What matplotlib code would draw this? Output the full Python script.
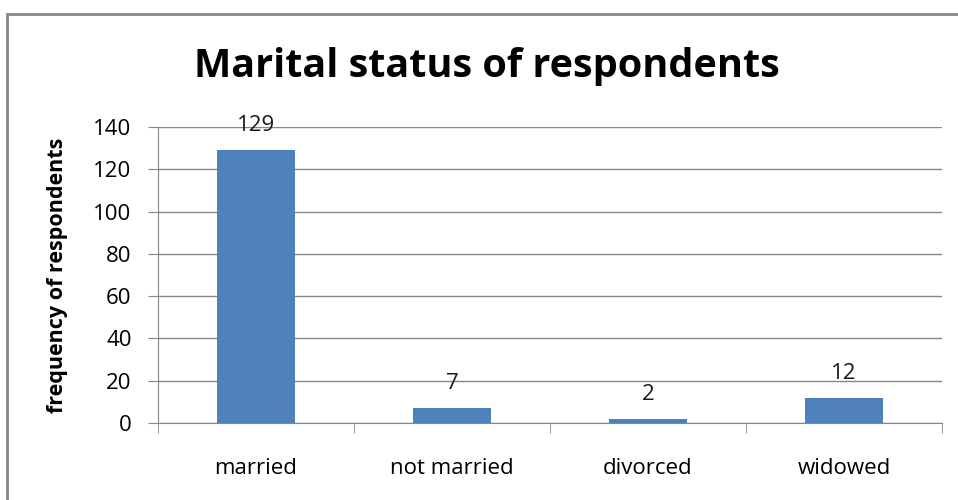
import matplotlib
matplotlib.use("Agg")
import matplotlib.pyplot as plt
from matplotlib.patches import Rectangle

categories = ["married", "not married", "divorced", "widowed"]
frequencies = [129, 7, 2, 12]
y_ticks = [0, 20, 40, 60, 80, 100, 120, 140]

plt.rcParams['font.family'] = ['Open Sans', 'DejaVu Sans']

fig = plt.figure(figsize=(9.58, 5.0), dpi=100)
# chart-area frame (only left/top edges are visible in the crop)
fig.patches.append(Rectangle((7 / 958, -0.1), 1.2, 0.1 + 486 / 500,
                             transform=fig.transFigure, fill=False,
                             edgecolor="#868686", linewidth=2))

ax = fig.add_axes([158 / 958, 77 / 500, 784 / 958, 296 / 500])
x = range(len(categories))
ax.bar(x, frequencies, width=0.4, color="#4F81BD", zorder=3)
for xi, v in zip(x, frequencies):
    ax.annotate(str(v), (xi, v), xytext=(0, 10), textcoords="offset points",
                ha="center", va="bottom", fontsize=16, color="#1a1a1a")

ax.set_xlim(-0.5, len(categories) - 0.5)
ax.set_ylim(0, 140)
ax.set_yticks(y_ticks)
ax.tick_params(axis="y", labelsize=16, length=7, color="#868686", pad=12)
ax.set_xticks(x)
ax.set_xticklabels(categories)
ax.tick_params(axis="x", length=0, labelsize=16, pad=25)
# category boundary ticks
ax.set_xticks([i - 0.5 for i in range(len(categories) + 1)], minor=True)
ax.tick_params(axis="x", which="minor", length=7, color="#868686")
ax.grid(axis="y", color="#868686", linewidth=1, zorder=0)
for side in ["top", "right"]:
    ax.spines[side].set_visible(False)
for side in ["left", "bottom"]:
    ax.spines[side].set_color("#868686")

ax.set_ylabel("frequency of respondents", fontsize=15.5, fontweight="bold")
ax.yaxis.set_label_coords((68 - 158) / 784, 0.5)
fig.text(487 / 958, 1 - 66 / 500, "Marital status of respondents",
         ha="center", va="center", fontsize=28.5, fontweight="bold")

fig.savefig("out.png", dpi=100)
